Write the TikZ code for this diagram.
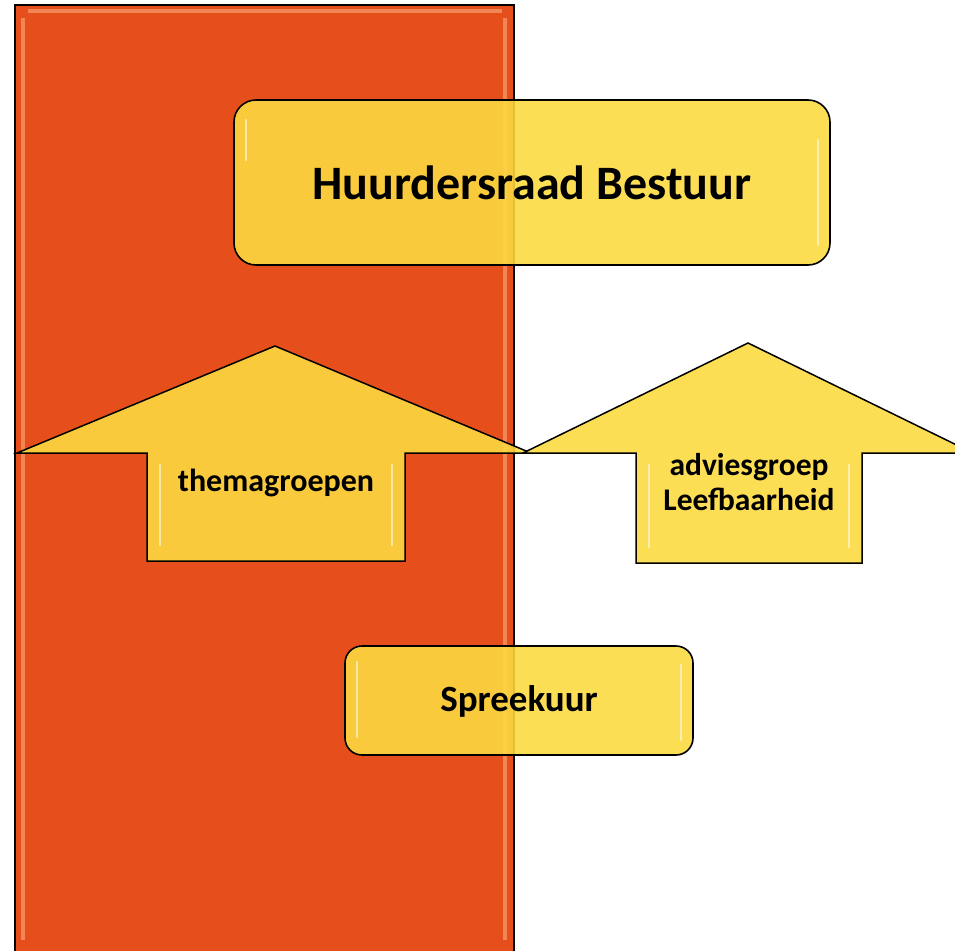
\documentclass[tikz,border=0pt]{standalone}
\usepackage{fontspec}
\setmainfont{Carlito}
\begin{document}
\begin{tikzpicture}[x=1pt,y=-1pt]
\definecolor{orng}{RGB}{230,79,27}
\definecolor{orngl}{RGB}{245,150,100}
\definecolor{ylw}{RGB}{252,219,65}
\tikzset{
  panel/.style={fill=orng,draw=black,line width=1.6pt},
  ybox/.style={fill=ylw,fill opacity=0.89,draw=black,line width=1.6pt,rounded corners=22pt},
  yarrow/.style={fill=ylw,fill opacity=0.89,draw=black,line width=1.5pt,line join=miter},
  lbl/.style={text=black,font=\bfseries,align=center,inner sep=0pt},
  shine/.style={draw=white,draw opacity=0.55,line width=2.5pt,line cap=round},
  oshine/.style={draw=orngl,draw opacity=0.8,line width=4pt}
}
\useasboundingbox (0,0) rectangle (955,950);
\fill[white] (0,0) rectangle (955,950);
% orange column
\path[panel] (15,5) rectangle (514,955);
\draw[oshine] (23,18) -- (23,940);
\draw[oshine] (505,18) -- (505,940);
\draw[oshine] (28,11) -- (502,11);
% top box
\node[ybox,minimum width=596pt,minimum height=165pt] (bestuur) at (532,182.5) {};
\draw[shine] (246,120) -- (246,160);
\draw[shine] (818,140) -- (818,245);
\node[lbl,font=\fontsize{48}{56}\selectfont\bfseries] (bestuurtxt) at (532,183) {Huurdersraad Bestuur};
% arrow 1
\path[yarrow] (275,346) -- (531,453) -- (405,453) -- (405,561) -- (147,561) -- (147,453) -- (17,453) -- cycle;
\draw[shine] (160,465) -- (160,545);
\draw[shine] (392,465) -- (392,545);
\node[lbl,font=\fontsize{32}{36}\selectfont\bfseries] (thema) at (276,483) {themagroepen};
% arrow 2
\path[yarrow] (748,343) -- (973,453) -- (862,453) -- (862,563) -- (636,563) -- (636,453) -- (523,453) -- cycle;
\draw[shine] (649,465) -- (649,547);
\draw[shine] (849,465) -- (849,547);
\node[lbl,font=\fontsize{31.5}{35}\selectfont\bfseries] (advies) at (749,482) {adviesgroep\\Leefbaarheid};
% spreekuur
\node[ybox,rounded corners=17pt,minimum width=348pt,minimum height=109pt] (spreek) at (519,700.5) {};
\draw[shine] (357,662) -- (357,737);
\draw[shine] (681,665) -- (681,740);
\node[lbl,font=\fontsize{37}{44}\selectfont\bfseries] (spreektxt) at (519,701) {Spreekuur};
\end{tikzpicture}
\end{document}
